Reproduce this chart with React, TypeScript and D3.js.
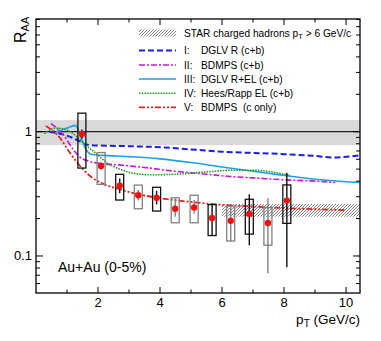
import React from "react";
import * as d3 from "d3";

// data points (non-photonic electrons, 0-5%)
const ptX = [1.48, 2.1, 2.7, 3.3, 3.89, 4.49, 5.1, 5.68, 6.28, 6.88, 7.48, 8.09];
const ptY = [0.96, 0.53, 0.368, 0.308, 0.294, 0.24, 0.246, 0.202, 0.192, 0.218, 0.184, 0.279];
const statLo = [0.88, 0.49, 0.32, 0.28, 0.26, 0.207, 0.22, 0.146, 0.13, 0.122, 0.0725, 0.081];
const statHi = [1.04, 0.574, 0.42, 0.34, 0.335, 0.291, 0.282, 0.258, 0.25, 0.314, 0.291, 0.468];
const sysLo = [0.51, 0.377, 0.282, 0.24, 0.23, 0.185, 0.185, 0.146, 0.132, 0.15, 0.122, 0.183];
const sysHi = [1.41, 0.68, 0.454, 0.372, 0.357, 0.294, 0.308, 0.259, 0.252, 0.286, 0.245, 0.373];

// model curves [pT, RAA]
const dglvR: [number, number][] = [
  [0.43, 1.0], [1.0, 0.93], [1.4, 0.84], [1.6, 0.79], [2.0, 0.775], [3.0, 0.765],
  [4.0, 0.75], [5.0, 0.72], [6.0, 0.69], [7.0, 0.675], [8.0, 0.66], [9.0, 0.638],
  [9.6, 0.62], [10.45, 0.645],
];
const bdmpsCB: [number, number][] = [
  [0.48, 1.16], [0.86, 0.96], [1.18, 0.73], [1.4, 0.63], [1.72, 0.577], [2.15, 0.553],
  [2.8, 0.537], [3.5, 0.515], [4.5, 0.48], [5.5, 0.455], [6.3, 0.435], [7.0, 0.425],
  [8.0, 0.41], [9.0, 0.4], [9.65, 0.39],
];
const dglvREL: [number, number][] = [
  [0.65, 1.0], [1.0, 1.07], [1.27, 1.125], [1.45, 0.9], [1.6, 0.73], [1.8, 0.655],
  [2.2, 0.645], [3.0, 0.63], [4.0, 0.605], [5.0, 0.565], [6.0, 0.52], [7.0, 0.48],
  [8.0, 0.445], [9.0, 0.415], [10.45, 0.39],
];
const heesRapp: [number, number][] = [
  [0.27, 0.96], [0.65, 1.07], [1.0, 1.03], [1.3, 0.92], [1.6, 0.78], [1.95, 0.665],
  [2.25, 0.57], [2.7, 0.5], [3.2, 0.46], [3.7, 0.45], [4.5, 0.455], [5.5, 0.475],
  [6.3, 0.49], [7.0, 0.49], [7.6, 0.475], [8.2, 0.445],
];
const bdmpsC: [number, number][] = [
  [0.32, 1.11], [0.75, 0.906], [1.07, 0.69], [1.4, 0.537], [1.72, 0.445], [2.15, 0.382],
  [2.7, 0.344], [3.2, 0.318], [4.0, 0.292], [5.0, 0.272], [6.0, 0.258], [7.0, 0.25],
  [8.0, 0.243], [9.0, 0.238], [10.0, 0.234],
];

const ppBand = [0.78, 1.24];
const starBand = [0.207, 0.262];
const starXMin = 6;

const xTicks = [1, 2, 3, 4, 5, 6, 7, 8, 9, 10];
const xLabels = [2, 4, 6, 8, 10];
const yLabels = [0.1, 1];

const legendNums = ["I:", "II:", "III:", "IV:", "V:"];
const legendNames = ["DGLV R (c+b)", "BDMPS (c+b)", "DGLV R+EL (c+b)", "Hees/Rapp EL (c+b)", "BDMPS  (c only)"];

const boxDark = [true, false, true, false, true, false, false, true, false, true, false, true];

const styles = [
  { color: "#1c1ce6", width: 2, dash: "6,3" },
  { color: "#c21ad6", width: 1.6, dash: "6,2,2,2" },
  { color: "#1e9fe6", width: 1.6, dash: "none" },
  { color: "#1f9a1f", width: 1.6, dash: "1.5,1.2" },
  { color: "#e41e1e", width: 1.8, dash: "6,2,2,2,2,2" },
];
const curves = [dglvR, bdmpsCB, dglvREL, heesRapp, bdmpsC];

const L = 36, R = 360, T = 19, B = 293;
const font = "'Liberation Sans', Arial, sans-serif";

export default function App() {
  const x = d3.scaleLinear().domain([0, 10.45]).range([L, R]);
  const y = d3.scaleLog().domain([0.05037, 8.07]).range([B, T]);
  const line = d3.line<[number, number]>().x(d => x(d[0])).y(d => y(d[1])).curve(d3.curveMonotoneX);
  const yTicks = y.ticks();
  const legY = [50.5, 65, 79, 93.3, 107.3];

  return (
    <svg width={381} height={341} style={{ position: "absolute", left: 0, top: 0 }} fontFamily={font}>
      <defs>
        <pattern id="hatch" patternUnits="userSpaceOnUse" width={3} height={3}>
          <rect width={3} height={3} fill="#fff" />
          <path d="M-1,1 L1,-1 M0,3 L3,0 M2,4 L4,2" stroke="#777" strokeWidth={0.9} />
        </pattern>
        <clipPath id="plot"><rect x={L} y={T} width={R - L} height={B - T} /></clipPath>
      </defs>
      <rect width={381} height={341} fill="#fff" />
      <g clipPath="url(#plot)">
        <rect x={L} y={y(ppBand[1])} width={R - L} height={y(ppBand[0]) - y(ppBand[1])} fill="#d9d9d9" />
        <rect x={x(starXMin)} y={y(starBand[1])} width={R - x(starXMin)} height={y(starBand[0]) - y(starBand[1])} fill="url(#hatch)" />
        <line x1={L} x2={R} y1={y(1)} y2={y(1)} stroke="#222" strokeWidth={1.2} />
        {curves.map((c, i) => (
          <path key={i} d={line(c) || ""} fill="none" stroke={styles[i].color} strokeWidth={styles[i].width}
            strokeDasharray={styles[i].dash} />
        ))}
        {ptX.map((px, i) => {
          const col = boxDark[i] ? "#111" : "#808080";
          return (
            <g key={i}>
              <rect x={x(px) - 4} y={y(sysHi[i])} width={8} height={y(sysLo[i]) - y(sysHi[i])}
                fill="none" stroke={col} strokeWidth={1.3} />
              <line x1={x(px)} x2={x(px)} y1={y(statHi[i])} y2={y(statLo[i])} stroke={col} strokeWidth={1.4} />
              <circle cx={x(px)} cy={y(ptY[i])} r={3.2} fill="#f01010" />
            </g>
          );
        })}
      </g>
      <rect x={L} y={T} width={R - L} height={B - T} fill="none" stroke="#000" strokeWidth={1.3} />
      {xTicks.map(t => {
        const len = t % 2 === 0 ? 6 : 3.5;
        return (
          <g key={t}>
            <line x1={x(t)} x2={x(t)} y1={B} y2={B - len} stroke="#000" />
            <line x1={x(t)} x2={x(t)} y1={T} y2={T + len} stroke="#000" />
          </g>
        );
      })}
      {yTicks.map((t, i) => {
        const major = yLabels.some(v => Math.abs(v - t) < 1e-9);
        const len = major ? 7 : 4;
        return (
          <g key={i}>
            <line x1={L} x2={L + len} y1={y(t)} y2={y(t)} stroke="#000" />
            <line x1={R} x2={R - len} y1={y(t)} y2={y(t)} stroke="#000" />
          </g>
        );
      })}
      {xLabels.map(t => (
        <text key={t} x={x(t)} y={306.5} textAnchor="middle" fontSize={13}>{t}</text>
      ))}
      {yLabels.map(t => (
        <text key={t} x={32} y={y(t) + 4.5} textAnchor="end" fontSize={13}>{t}</text>
      ))}
      <text x={360} y={324} textAnchor="end" fontSize={13.5}>
        p<tspan fontSize={10} dy={3}>T</tspan><tspan dy={-3}> (GeV/c)</tspan>
      </text>
      <text transform="translate(26,43) rotate(-90)" fontSize={16}>
        R<tspan fontSize={11} dy={3}>AA</tspan>
      </text>
      <text x={58} y={272} fontSize={14}>Au+Au (0-5%)</text>
      <rect x={139} y={29.5} width={37} height={7} fill="url(#hatch)" />
      <text x={184} y={37} fontSize={10.2}>
        STAR charged hadrons p<tspan fontSize={7.5} dy={2}>T</tspan><tspan dy={-2}> &gt; 6 GeV/c</tspan>
      </text>
      {legendNames.map((n, i) => (
        <g key={i}>
          <line x1={139} x2={176} y1={legY[i]} y2={legY[i]} stroke={styles[i].color}
            strokeWidth={styles[i].width} strokeDasharray={styles[i].dash} />
          <text x={184} y={legY[i] + 3.7} fontSize={10.2}>{legendNums[i]}</text>
          <text x={201} y={legY[i] + 3.7} fontSize={10.2} style={{ whiteSpace: "pre" }}>{n}</text>
        </g>
      ))}
    </svg>
  );
}
